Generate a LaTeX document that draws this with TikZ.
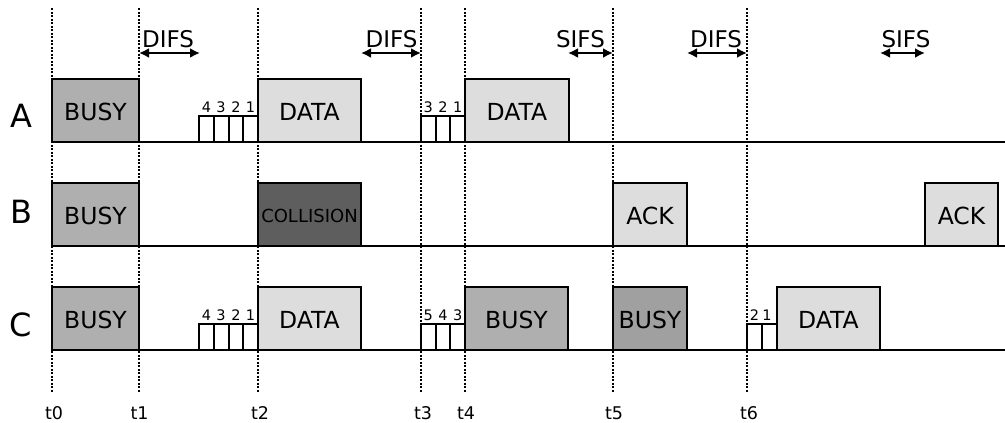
\documentclass[tikz,border=0pt]{standalone}
\usepackage{fontspec}
\setmainfont{DejaVu Sans}
\usetikzlibrary{arrows.meta}
\definecolor{busyc}{HTML}{AFAFAF}
\definecolor{busydk}{HTML}{A0A0A0}
\definecolor{datac}{HTML}{DDDDDD}
\definecolor{collc}{HTML}{5E5E5E}
% packet box: name, x-left, x-right, y-top, fill, text
\newcommand\pkt[6]{%
  \node[frame, fill=#5, minimum width={(#3-#2)*1pt}] (#1) at ({(#2+#3)/2},{#4+31.5}) {#6};}
% backoff slots: x-start, count, slot width, baseline y
\newcommand\slotrow[4]{%
  \foreach \i in {1,...,#2} \draw[slotbox] ({#1+(\i-1)*#3},#4) rectangle ++(#3,-26);}
\begin{document}
\begin{tikzpicture}[x=1pt,y=-1pt,
  marker/.style={line width=1.9pt, dash pattern=on 2pt off 1.5pt},
  axis/.style={line width=2.2pt},
  frame/.style={draw, line width=2.2pt, inner sep=0pt, minimum height=63pt,
    text height=19pt, text depth=0pt,
    font=\fontsize{23.5}{23.5}\selectfont},
  slotbox/.style={draw, line width=2pt, fill=white},
  digit/.style={anchor=base, inner sep=0pt, font=\fontsize{14.5}{14.5}\selectfont},
  rowlabel/.style={anchor=base, inner sep=0pt, font=\fontsize{32}{32}\selectfont},
  tlabel/.style={anchor=base, inner sep=0pt, font=\fontsize{17.5}{17.5}\selectfont},
  gaplabel/.style={anchor=base, inner sep=0pt, font=\fontsize{23}{23}\selectfont},
  gap/.style={line width=2.4pt, {Latex[length=10pt,width=10pt]}-{Latex[length=10pt,width=10pt]}}]
\useasboundingbox (0,0) rectangle (1005,423);

% time markers
\foreach \x in {52,139,258,421,465,613,747}{
  \draw[marker] (\x,8) -- (\x,393);
}
\node[tlabel] (t0) at (54,419) {t0};
\node[tlabel] (t1) at (139.5,419) {t1};
\node[tlabel] (t2) at (260,419) {t2};
\node[tlabel] (t3) at (423,419) {t3};
\node[tlabel] (t4) at (466,419) {t4};
\node[tlabel] (t5) at (614,419) {t5};
\node[tlabel] (t6) at (749,419) {t6};

% station time lines
\draw[axis] (52,142) -- (1005,142);
\draw[axis] (52,246) -- (1005,246);
\draw[axis] (52,350) -- (1005,350);

\node[rowlabel] (labA) at (21,127) {A};
\node[rowlabel] (labB) at (21,223) {B};
\node[rowlabel] (labC) at (21,336) {C};

% interframe spaces
\coordinate (g1a) at (139,53); \coordinate (g1b) at (200,53);
\coordinate (g2a) at (361,53); \coordinate (g2b) at (421,53);
\coordinate (g3a) at (568,53); \coordinate (g3b) at (613,53);
\coordinate (g4a) at (687,53); \coordinate (g4b) at (747,53);
\coordinate (g5a) at (880,53); \coordinate (g5b) at (925,53);
\draw[gap] (g1a) -- (g1b);
\draw[gap] (g2a) -- (g2b);
\draw[gap] (g3a) -- (g3b);
\draw[gap] (g4a) -- (g4b);
\draw[gap] (g5a) -- (g5b);
\node[gaplabel] (difs1) at (168,47) {DIFS};
\node[gaplabel] (difs2) at (391.5,47) {DIFS};
\node[gaplabel] (sifs1) at (580.5,47) {SIFS};
\node[gaplabel] (difs3) at (716,47) {DIFS};
\node[gaplabel] (sifs2) at (906,47) {SIFS};

% station A
\pkt{aBusy}{52}{139}{79}{busyc}{BUSY}
\slotrow{199}{4}{14.75}{142}
\node[digit] (aS4) at (206.4,112.5) {4};
\node[digit] (aS3) at (221.1,112.5) {3};
\node[digit] (aS2) at (235.9,112.5) {2};
\node[digit] (aS1) at (250.6,112.5) {1};
\pkt{aData1}{258}{361}{79}{datac}{DATA}
\slotrow{421}{3}{14.67}{142}
\node[digit] (aR3) at (428.3,112.5) {3};
\node[digit] (aR2) at (443,112.5) {2};
\node[digit] (aR1) at (457.7,112.5) {1};
\pkt{aData2}{465}{569}{79}{datac}{DATA}

% station B
\pkt{bBusy}{52}{139}{183}{busyc}{BUSY}
\node[frame, fill=collc, minimum width=103pt, text height=15pt,
  font=\fontsize{18}{18}\selectfont] (bColl) at (309.5,214.5) {COLLISION};
\pkt{bAck1}{613}{687}{183}{datac}{ACK}
\pkt{bAck2}{925}{998}{183}{datac}{ACK}

% station C
\pkt{cBusy}{52}{139}{287}{busyc}{BUSY}
\slotrow{199}{4}{14.75}{350}
\node[digit] (cS4) at (206.4,320.5) {4};
\node[digit] (cS3) at (221.1,320.5) {3};
\node[digit] (cS2) at (235.9,320.5) {2};
\node[digit] (cS1) at (250.6,320.5) {1};
\pkt{cData1}{258}{361}{287}{datac}{DATA}
\slotrow{421}{3}{14.67}{350}
\node[digit] (cR5) at (428.3,320.5) {5};
\node[digit] (cR4) at (443,320.5) {4};
\node[digit] (cR3) at (457.7,320.5) {3};
\pkt{cBusy2}{465}{568}{287}{busyc}{BUSY}
\pkt{cBusy3}{613}{687}{287}{busydk}{BUSY}
\slotrow{747}{2}{15}{350}
\node[digit] (cQ2) at (754.5,320.5) {2};
\node[digit] (cQ1) at (767,320.5) {1};
\pkt{cData2}{777}{880}{287}{datac}{DATA}
\end{tikzpicture}
\end{document}
